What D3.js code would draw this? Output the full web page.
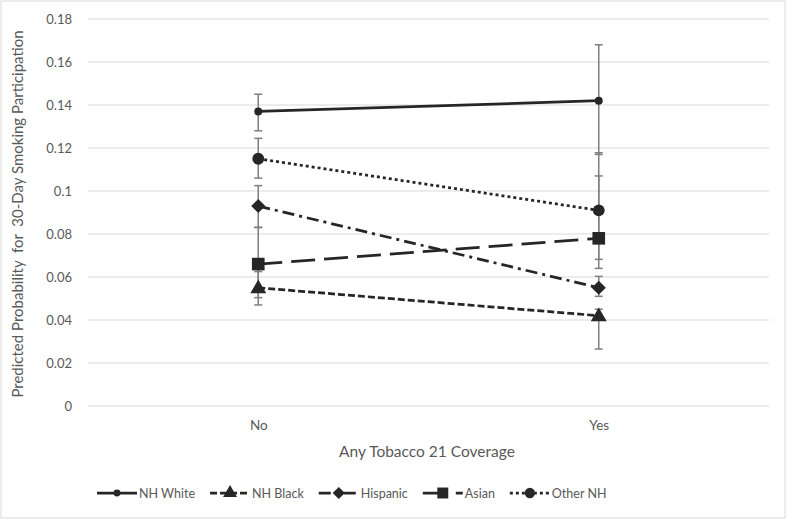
<!DOCTYPE html>
<html lang="en">
<head>
    <meta charset="UTF-8">
    <title>T21 coverage chart</title>
    <script src="https://d3js.org/d3.v7.min.js"></script>
    <style>
        body { margin: 0; background: #fff; }
        svg text { font-family: Lato, "Open Sans", sans-serif; fill: #595959; }
    </style>
</head>
<body>
<svg id="canvas" width="787" height="520"></svg>
<script>
    // categories on x
    let categories = ["No", "Yes"];
    let yTicks = [0, 0.02, 0.04, 0.06, 0.08, 0.1, 0.12, 0.14, 0.16, 0.18];

    // series names + point estimates (No, Yes)
    let seriesNames = ["NH White", "NH Black", "Hispanic", "Asian", "Other NH"];
    let nhWhite  = [0.137, 0.142];
    let nhBlack  = [0.055, 0.042];
    let hispanic = [0.093, 0.055];
    let asian    = [0.066, 0.078];
    let otherNH  = [0.115, 0.091];

    // error bar ends [low, high] for (No, Yes)
    let nhWhiteErr  = [[0.128, 0.145], [0.117, 0.168]];
    let nhBlackErr  = [[0.047, 0.0625], [0.0265, 0.045]];
    let hispanicErr = [[0.083, 0.1025], [0.051, 0.0603]];
    let asianErr    = [[0.0504, 0.0831], [0.064, 0.1178]];
    let otherNHErr  = [[0.106, 0.1245], [0.0682, 0.107]];

    let values = [nhWhite, nhBlack, hispanic, asian, otherNH];
    let errs = [nhWhiteErr, nhBlackErr, hispanicErr, asianErr, otherNHErr];

    // line dash + marker per series
    let dashes = [null, "7,3", "12,5,3,5", "24,9", "3,3"];
    let markers = ["smallCircle", "triangle", "diamond", "square", "circle"];

    let svg = d3.select("#canvas");

    // chart border
    svg.append("rect").attr("x", 1).attr("y", 1).attr("width", 784).attr("height", 517)
        .attr("fill", "white").attr("stroke", "#d9d9d9");

    let x = d3.scalePoint().domain(categories).range([88, 769]).padding(0.5);
    let y = d3.scaleLinear().domain([0, 0.18]).range([406, 19]);

    // gridlines
    svg.append("g").selectAll("line").data(yTicks).enter().append("line")
        .attr("x1", 88).attr("x2", 769)
        .attr("y1", d => y(d)).attr("y2", d => y(d))
        .attr("stroke", "#d9d9d9").attr("stroke-width", 1);

    // y axis labels
    let yAxis = svg.append("g").attr("transform", "translate(80,0)")
        .call(d3.axisLeft(y).tickValues(yTicks).tickSize(0).tickPadding(8).tickFormat(d => d3.format("")(+d.toFixed(2))));
    yAxis.select(".domain").remove();
    yAxis.selectAll("text").style("font-size", "13px").style("fill", "#595959")
        .style("font-family", "Lato, 'Open Sans', sans-serif");

    // x axis labels
    let xAxis = svg.append("g").attr("transform", "translate(0,406)")
        .call(d3.axisBottom(x).tickSize(0).tickPadding(14));
    xAxis.select(".domain").remove();
    xAxis.selectAll("text").style("font-size", "13.5px").style("fill", "#595959")
        .style("font-family", "Lato, 'Open Sans', sans-serif");

    // axis titles
    svg.append("text").attr("x", 427).attr("y", 457).attr("text-anchor", "middle")
        .style("font-size", "15.5px").text("Any Tobacco 21 Coverage");
    svg.append("text").attr("transform", "translate(23,214) rotate(-90)").attr("text-anchor", "middle")
        .style("font-size", "15px").attr("xml:space", "preserve")
        .text("Predicted Probability  for  30-Day Smoking Participation");

    // error bars
    let errG = svg.append("g");
    errs.forEach(function (e) {
        e.forEach(function (r, i) {
            let cx = x(categories[i]);
            errG.append("line").attr("x1", cx).attr("x2", cx).attr("y1", y(r[0])).attr("y2", y(r[1]))
                .attr("stroke", "#7f7f7f").attr("stroke-width", 1.5);
            r.forEach(function (v) {
                errG.append("line").attr("x1", cx - 4).attr("x2", cx + 4).attr("y1", y(v)).attr("y2", y(v))
                    .attr("stroke", "#7f7f7f").attr("stroke-width", 1.5);
            });
        });
    });

    // series lines
    let line = d3.line().x((d, i) => x(categories[i])).y(d => y(d));
    values.forEach(function (v, s) {
        svg.append("path").datum(v).attr("d", line)
            .attr("fill", "none").attr("stroke", "#262626").attr("stroke-width", 2.75)
            .attr("stroke-dasharray", dashes[s]);
    });

    // marker drawing
    function drawMarker(g, type, cx, cy, k) {
        k = k || 1;
        let sym;
        if (type === "smallCircle") sym = d3.symbol(d3.symbolCircle, 50 * k);
        else if (type === "circle") sym = d3.symbol(d3.symbolCircle, 110 * k);
        else if (type === "square") sym = d3.symbol(d3.symbolSquare, 160 * k);
        else if (type === "diamond") {
            g.append("path").attr("d", d3.symbol(d3.symbolSquare, 100 * k)())
                .attr("transform", `translate(${cx},${cy}) rotate(45)`).attr("fill", "#262626");
            return;
        } else sym = d3.symbol(d3.symbolTriangle, 110 * k);
        g.append("path").attr("d", sym()).attr("transform", `translate(${cx},${cy})`).attr("fill", "#262626");
    }

    let markG = svg.append("g");
    values.forEach(function (v, s) {
        v.forEach(function (d, i) {
            drawMarker(markG, markers[s], x(categories[i]), y(d) + (markers[s] === "triangle" ? 1 : 0));
        });
    });

    // legend
    let legG = svg.append("g").attr("transform", "translate(97,493)");
    let lx = 0;
    seriesNames.forEach(function (name, s) {
        legG.append("line").attr("x1", lx).attr("x2", lx + 40).attr("y1", 0).attr("y2", 0)
            .attr("stroke", "#262626").attr("stroke-width", 2.75).attr("stroke-dasharray", dashes[s]);
        drawMarker(legG, markers[s], lx + 20, 0, 0.75);
        let t = legG.append("text").attr("x", lx + 42).attr("y", 5)
            .style("font-size", "12.5px").text(name);
        lx += 42 + t.node().getComputedTextLength() + 15;
    });
</script>
</body>
</html>
